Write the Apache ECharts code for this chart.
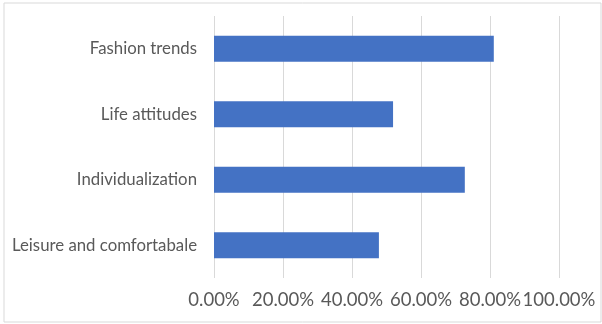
<!DOCTYPE html>
<html><head><meta charset="utf-8">
<script src="https://cdn.jsdelivr.net/npm/echarts@6/dist/echarts.min.js"></script>
<style>html,body{margin:0;padding:0;background:#fff}#c{width:602px;height:324px}</style>
</head><body><div id="c"></div>
<script>
const categories = ["Leisure and comfortabale", "Individualization", "Life attitudes", "Fashion trends"];
const values = [0.478, 0.727, 0.519, 0.811];
const tickMin = 0, tickMax = 1, tickStep = 0.2;

const chart = echarts.init(document.getElementById('c'), null, {renderer: 'canvas'});
chart.setOption({
  animation: false,
  backgroundColor: '#ffffff',
  graphic: [{
    type: 'rect', shape: {x: 4, y: 3, width: 597, height: 319},
    style: {fill: 'none', stroke: '#d9d9d9', lineWidth: 1}, silent: true
  }],
  grid: {left: 214, right: 43, top: 16, bottom: 46, containLabel: false},
  xAxis: {
    type: 'value', min: tickMin, max: tickMax, interval: tickStep,
    axisLine: {show: false}, axisTick: {show: false},
    splitLine: {lineStyle: {color: '#d9d9d9', width: 1}},
    axisLabel: {
      formatter: v => (v * 100).toFixed(2) + '%',
      color: '#595959', fontFamily: 'Lato', fontSize: 18.5, margin: 13
    }
  },
  yAxis: {
    type: 'category', data: categories,
    axisLine: {show: false}, axisTick: {show: false},
    axisLabel: {color: '#595959', fontFamily: 'Lato', fontSize: 16.8, margin: 17}
  },
  series: [{
    type: 'bar', data: values, barCategoryGap: '60%',
    itemStyle: {color: '#4472c4'}
  }]
});
</script></body></html>
